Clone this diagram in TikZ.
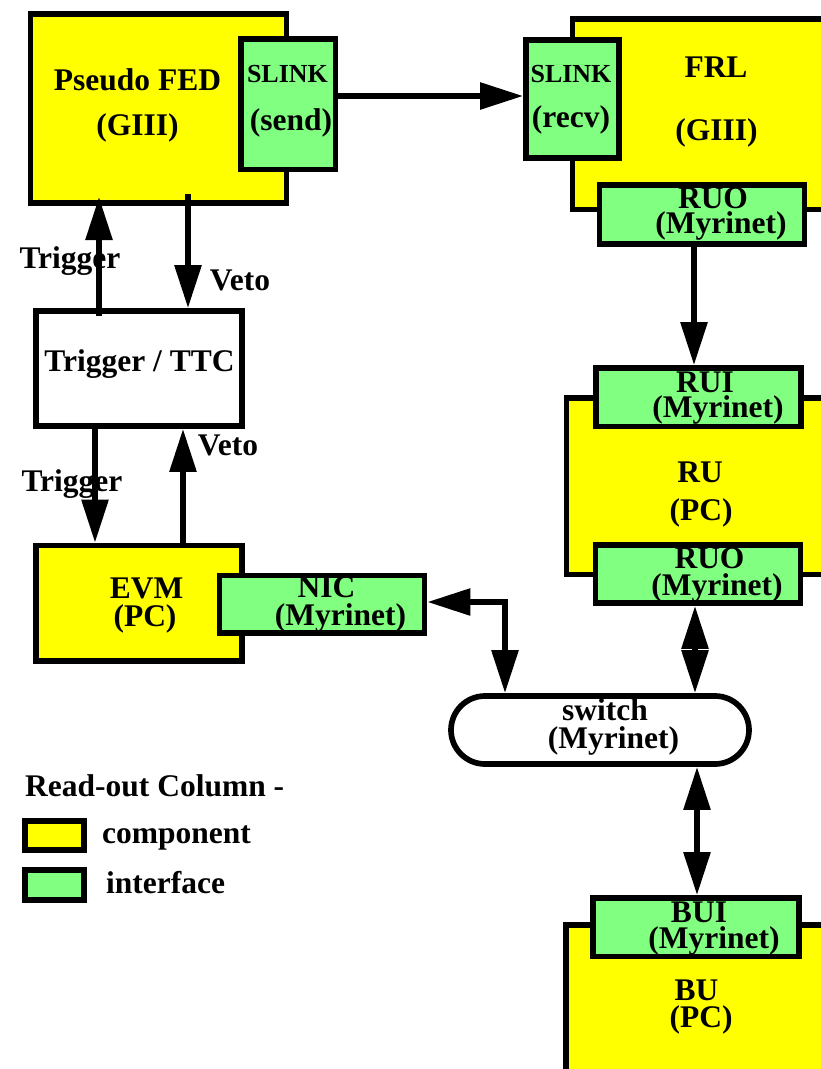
\documentclass[tikz,border=0pt]{standalone}
\usepackage{fontspec}
\setmainfont{Liberation Serif}
\usetikzlibrary{arrows.meta}
\definecolor{comp}{RGB}{255,255,0}
\definecolor{intf}{RGB}{128,255,128}
\begin{document}
\begin{tikzpicture}[x=1pt,y=-1pt,
  lw/.style={line width=5.7pt},
  component/.style={draw, lw, fill=comp, inner sep=0pt, rectangle},
  interface/.style={draw, lw, fill=intf, inner sep=0pt, rectangle},
  plainbox/.style={draw, lw, fill=white, inner sep=0pt, rectangle},
  txt/.style={inner sep=0pt, anchor=base, font=\bfseries\fontsize{31.5}{31.5}\selectfont},
  smalltxt/.style={inner sep=0pt, anchor=base, font=\bfseries\fontsize{26}{26}\selectfont},
  arr/.style={lw, -{Triangle[length=43pt,width=26pt]}},
  dbl/.style={lw, {Triangle[length=43pt,width=26pt]}-{Triangle[length=43pt,width=26pt]}}]
\useasboundingbox (0,0) rectangle (821,1069);
\clip (0,0) rectangle (821,1069);
\fill[white] (0,0) rectangle (821,1069);

% components
\node[component, minimum width=256pt, minimum height=189pt] (fed) at (158.5,108.5) {};
\node[component, minimum width=277.5pt, minimum height=190.5pt] (frl) at (711.25,114.25) {};
\node[component, minimum width=283.5pt, minimum height=176.5pt] (ru) at (708.25,486.25) {};
\node[component, minimum width=284pt, minimum height=175pt] (bu) at (708,1012.5) {};
\node[component, minimum width=206pt, minimum height=115.5pt] (evm) at (139,603.25) {};
\node[plainbox, minimum width=206pt, minimum height=115pt] (ttc) at (139,368.5) {};

% interfaces
\node[interface, minimum width=94.5pt, minimum height=130.5pt] (slinks) at (288.25,104.25) {};
\node[interface, minimum width=93pt, minimum height=118pt] (slinkr) at (572.5,99) {};
\node[interface, minimum width=205pt, minimum height=59pt] (ruo1) at (702,214.5) {};
\node[interface, minimum width=205pt, minimum height=58.5pt] (rui) at (698.5,397.25) {};
\node[interface, minimum width=205pt, minimum height=58pt] (ruo2) at (698,574) {};
\node[interface, minimum width=206pt, minimum height=58.5pt] (bui) at (696,927.25) {};
\node[interface, minimum width=205pt, minimum height=57.5pt] (nic) at (322,604.25) {};

% switch
\node[draw, lw, fill=white, rounded corners=34pt, inner sep=0pt, minimum width=298pt, minimum height=68pt] (switch) at (600,730) {};

% legend boxes
\node[component, minimum width=59pt, minimum height=29pt] (legc) at (54.5,835.5) {};
\node[interface, minimum width=59pt, minimum height=30pt] (legi) at (54.5,885) {};

% texts
\node[txt] (t1) at (137.5,90) {Pseudo FED};
\node[txt] (t2) at (137.5,135) {(GIII)};
\node[smalltxt] (t3) at (287.5,82) {SLINK};
\node[txt] (t4) at (291,130) {(send)};
\node[smalltxt] (t5) at (571,82) {SLINK};
\node[txt] (t6) at (571,127) {(recv)};
\node[txt] (t7) at (716,77) {FRL};
\node[txt] (t8) at (716.5,140) {(GIII)};
\node[txt] (t9) at (713,208) {RUO};
\node[txt] (t10) at (721,233) {(Myrinet)};
\node[txt] (t11) at (705,392) {RUI};
\node[txt] (t12) at (718,417) {(Myrinet)};
\node[txt] (t13) at (700,482) {RU};
\node[txt] (t14) at (701,520) {(PC)};
\node[txt] (t15) at (709.5,568) {RUO};
\node[txt] (t16) at (717,595) {(Myrinet)};
\node[txt] (t17) at (605,720) {switch};
\node[txt] (t18) at (613.5,748) {(Myrinet)};
\node[txt] (t19) at (699,922) {BUI};
\node[txt] (t20) at (714,948) {(Myrinet)};
\node[txt] (t21) at (696.5,1000) {BU};
\node[txt] (t22) at (701,1027) {(PC)};
\node[txt] (t23) at (139.5,371) {Trigger / TTC};
\node[txt] (t24) at (146.5,598) {EVM};
\node[txt] (t25) at (145,626) {(PC)};
\node[txt] (t26) at (326.5,597) {NIC};
\node[txt] (t27) at (340.5,625) {(Myrinet)};
\node[txt] (t28) at (70,268) {Trigger};
\node[txt] (t29) at (240,290) {Veto};
\node[txt] (t30) at (72,491) {Trigger};
\node[txt] (t31) at (228,455) {Veto};
\node[txt, anchor=base west] (t32) at (25,796) {Read-out Column -};
\node[txt, anchor=base west] (t33) at (102,843) {component};
\node[txt, anchor=base west] (t34) at (106,893) {interface};

% helper coordinates
\coordinate (ya) at (0,96);
\coordinate (yb) at (0,602);
\coordinate (xa) at (694,0);
\coordinate (xb) at (695,0);
\coordinate (xc) at (697,0);
\coordinate (xd) at (505,0);
\coordinate (xf) at (188,0);
\coordinate (xg) at (95,0);
\coordinate (xh) at (183,0);
\coordinate (fedin) at (188,194);
\coordinate (fedtip) at (99,197);
\coordinate (ttcin) at (99,316);

% connectors
\draw[arr] (slinks.east |- ya) -- (slinkr.west |- ya);
\draw[arr] (xa |- ruo1.south) -- (xa |- rui.north);
\draw[dbl] (xb |- ruo2.south) -- (xb |- switch.north);
\draw[dbl] (xc |- switch.south) -- (xc |- bui.north);
\draw[dbl] (nic.east |- yb) -| (xd |- switch.north);
\draw[arr] (ttcin) -- (fedtip);
\draw[arr] (fedin) -- (xf |- ttc.north);
\draw[arr] (xg |- ttc.south) -- (xg |- evm.north);
\draw[arr] (xh |- evm.north) -- (xh |- ttc.south);
\end{tikzpicture}
\end{document}
